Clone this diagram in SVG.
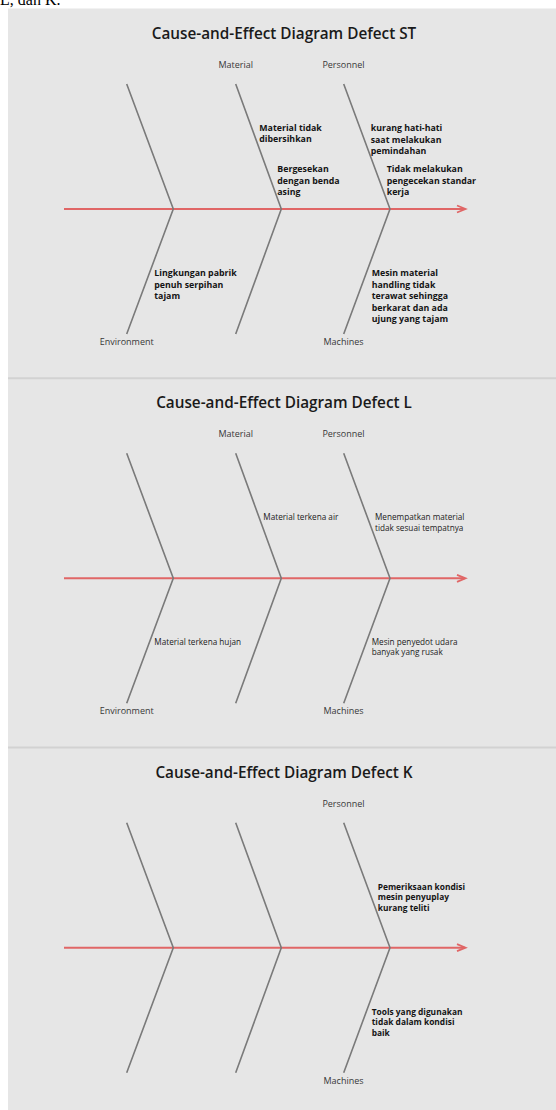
<svg xmlns="http://www.w3.org/2000/svg" width="556" height="1110" viewBox="0 0 556 1110">
<style>
.top{font-family:"Liberation Serif",serif;font-size:16px;fill:#000}
.title{font-family:"Open Sans","Noto Sans",sans-serif;font-size:15.3px;font-weight:600;fill:#1a1a1a;text-anchor:middle}
.cat{font-family:"Open Sans","Noto Sans",sans-serif;font-size:9px;fill:#383838;text-anchor:middle}
.cb{font-family:"Open Sans","Noto Sans",sans-serif;font-size:8.8px;font-weight:bold;fill:#141414}
.cb3{font-family:"Open Sans","Noto Sans",sans-serif;font-size:8.4px;font-weight:bold;fill:#141414}
.cr{font-family:"Open Sans","Noto Sans",sans-serif;font-size:8.2px;fill:#222222}
.bone{stroke:#7a7a7a;stroke-width:1.6;fill:none}
.spine{stroke:#e06666;stroke-width:2;fill:none}
.head{stroke:#e06666;stroke-width:1.8;fill:none}
</style>
<defs>
<g id="skeleton">
<line class="spine" x1="64" y1="209" x2="465" y2="209"/>
<polyline class="head" points="457,205.5 465.5,209 457,212.5"/>
<polyline class="bone" points="126.7,84 173.3,209 126.7,334"/>
<polyline class="bone" points="235.7,84 281.3,209 235.7,334"/>
<polyline class="bone" points="343.7,84 390,209 343.7,334"/>
</g>
</defs>
<rect x="0" y="0" width="556" height="1110" fill="#ffffff"/>
<text class="top" x="0" y="4.5">L, dan K.</text>
<rect x="8" y="8.5" width="548" height="1102" fill="#e6e6e6"/>
<line x1="8" y1="378.2" x2="556" y2="378.2" stroke="#d2d2d2" stroke-width="2"/>
<line x1="8" y1="747.4" x2="556" y2="747.4" stroke="#d2d2d2" stroke-width="2"/>

<g id="connectors">
<use href="#skeleton"/>
<use href="#skeleton" transform="translate(0,369.3)"/>
<use href="#skeleton" transform="translate(0,738.7)"/>
</g>

<!-- Panel 1 -->
<g id="title-st"><text class="title" x="284" y="39">Cause-and-Effect Diagram Defect ST</text></g>
<g id="st-material"><text class="cat" x="235.7" y="68">Material</text></g>
<g id="st-personnel"><text class="cat" x="343.5" y="68">Personnel</text></g>
<g id="st-environment"><text class="cat" x="126.7" y="345">Environment</text></g>
<g id="st-machines"><text class="cat" x="343.5" y="345">Machines</text></g>
<g id="st-c1"><text class="cb" x="259.3" y="131"><tspan x="259.3">Material tidak</tspan><tspan x="259.3" dy="11.4">dibersihkan</tspan></text></g>
<g id="st-c2"><text class="cb" x="277.3" y="172.2"><tspan x="277.3">Bergesekan</tspan><tspan x="277.3" dy="11.5">dengan benda</tspan><tspan x="277.3" dy="11.5">asing</tspan></text></g>
<g id="st-c3"><text class="cb" x="370.7" y="131"><tspan x="370.7">kurang hati-hati</tspan><tspan x="370.7" dy="11.5">saat melakukan</tspan><tspan x="370.7" dy="11.5">pemindahan</tspan></text></g>
<g id="st-c4"><text class="cb" x="386.7" y="172.2"><tspan x="386.7">Tidak melakukan</tspan><tspan x="386.7" dy="11.5">pengecekan standar</tspan><tspan x="386.7" dy="11.5">kerja</tspan></text></g>
<g id="st-c5"><text class="cb" x="154.3" y="275.9"><tspan x="154.3">Lingkungan pabrik</tspan><tspan x="154.3" dy="11.6">penuh serpihan</tspan><tspan x="154.3" dy="11.6">tajam</tspan></text></g>
<g id="st-c6"><text class="cb" x="371.7" y="275.9"><tspan x="371.7">Mesin material</tspan><tspan x="371.7" dy="11.6">handling tidak</tspan><tspan x="371.7" dy="11.6">terawat sehingga</tspan><tspan x="371.7" dy="11.6">berkarat dan ada</tspan><tspan x="371.7" dy="11.6">ujung yang tajam</tspan></text></g>

<!-- Panel 2 -->
<g id="title-l"><text class="title" x="284" y="408.3">Cause-and-Effect Diagram Defect L</text></g>
<g id="l-material"><text class="cat" x="235.7" y="437.3">Material</text></g>
<g id="l-personnel"><text class="cat" x="343.5" y="437.3">Personnel</text></g>
<g id="l-environment"><text class="cat" x="126.7" y="714.3">Environment</text></g>
<g id="l-machines"><text class="cat" x="343.5" y="714.3">Machines</text></g>
<g id="l-c1"><text class="cr" x="263.3" y="519.7">Material terkena air</text></g>
<g id="l-c2"><text class="cr" x="375" y="519.7"><tspan x="375">Menempatkan material</tspan><tspan x="375" dy="11">tidak sesuai tempatnya</tspan></text></g>
<g id="l-c3"><text class="cr" x="154.3" y="645">Material terkena hujan</text></g>
<g id="l-c4"><text class="cr" x="371.7" y="645"><tspan x="371.7">Mesin penyedot udara</tspan><tspan x="371.7" dy="10.3">banyak yang rusak</tspan></text></g>

<!-- Panel 3 -->
<g id="title-k"><text class="title" x="284" y="777.7">Cause-and-Effect Diagram Defect K</text></g>
<g id="k-personnel"><text class="cat" x="343.5" y="806.7">Personnel</text></g>
<g id="k-machines"><text class="cat" x="343.5" y="1083.7">Machines</text></g>
<g id="k-c1"><text class="cb3" x="377.7" y="889.7"><tspan x="377.7">Pemeriksaan kondisi</tspan><tspan x="377.7" dy="10.4">mesin penyuplay</tspan><tspan x="377.7" dy="10.4">kurang teliti</tspan></text></g>
<g id="k-c2"><text class="cb3" x="371.7" y="1014.7"><tspan x="371.7">Tools yang digunakan</tspan><tspan x="371.7" dy="10.4">tidak dalam kondisi</tspan><tspan x="371.7" dy="10.4">baik</tspan></text></g>
</svg>
